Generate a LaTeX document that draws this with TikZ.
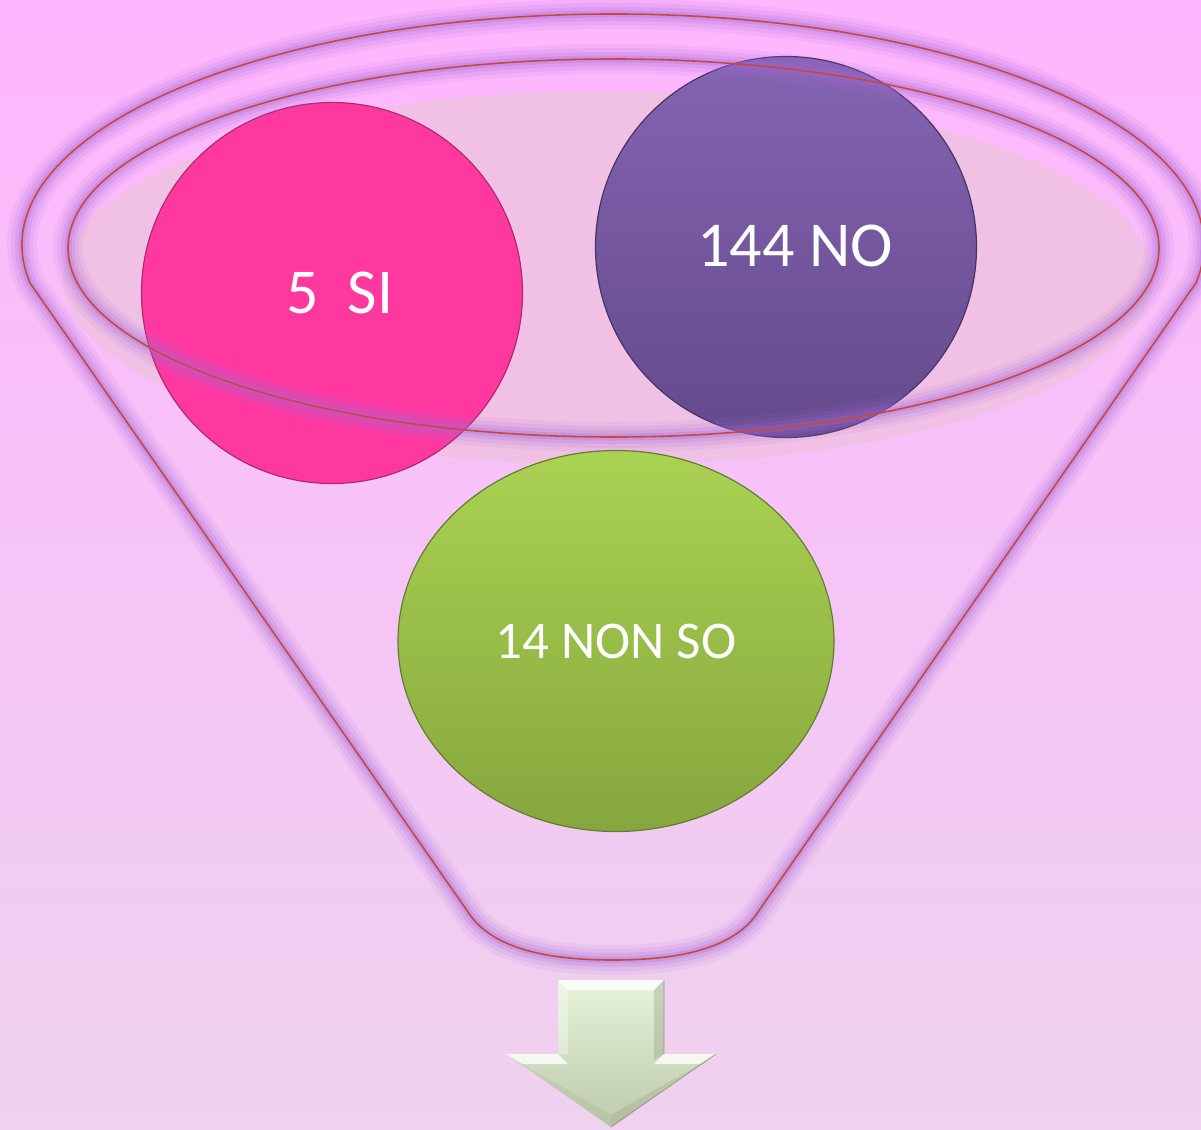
\documentclass[tikz,border=0pt]{standalone}
\usepackage{fontspec}
\setmainfont{Carlito}
\usetikzlibrary{shapes.geometric}
\definecolor{bgtop}{RGB}{254,182,254}
\definecolor{bgbot}{RGB}{238,210,238}
\definecolor{lightell}{RGB}{241,193,229}
\definecolor{halo}{RGB}{165,105,215}
\definecolor{funnelred}{RGB}{200,72,62}
\definecolor{pinkc}{RGB}{255,56,160}
\definecolor{purtop}{RGB}{132,100,178}
\definecolor{purbot}{RGB}{100,74,140}
\definecolor{grtop}{RGB}{170,210,82}
\definecolor{grbot}{RGB}{134,166,62}
\definecolor{arrtop}{RGB}{230,242,218}
\definecolor{arrbot}{RGB}{190,202,170}
\tikzset{
  ball/.style={circle, inner sep=0pt, line width=1.2pt},
  bigtext/.style={font=\fontsize{64}{72}\selectfont, text=white},
  midtext/.style={font=\fontsize{53}{60}\selectfont, text=white},
  redline/.style={draw=funnelred, line width=1.6pt},
}
\begin{document}
\begin{tikzpicture}[x=1pt,y=-1pt]
\useasboundingbox (0,0) rectangle (1201,1129);
\shade[top color=bgtop, bottom color=bgbot] (0,0) rectangle (1201,1129);
% light inner ellipse
\fill[lightell] (608,278) ellipse [x radius=545, y radius=187];
% circles
\node[ball, fill=pinkc, draw=pinkc!70!black, minimum size=381pt,
  label={[name=sitext, bigtext, xshift=8pt]center:5\ \ SI}] (si) at (332,293) {};
\node[ball, top color=purtop, bottom color=purbot, draw=purbot!70!black, minimum size=381pt,
  label={[name=notext, bigtext, xshift=9pt, yshift=1pt]center:144 NO}] (no) at (786,247) {};
\node[ellipse, inner sep=0pt, line width=1.2pt, midtext, top color=grtop, bottom color=grbot, draw=grbot!75!black, minimum width=436pt, minimum height=381pt] (ns) at (616,641) {14 NON SO};
% funnel halo
\foreach \w/\o in {30/0.09,22/0.13,14/0.18,7/0.25}{
  \draw[halo, line width=\w pt, opacity=\o, line join=round]
    (30.1,283.1) arc[start angle=170.5, end angle=369.5, x radius=591, y radius=231]
    -- (758,912) .. controls (736,946) and (686,960) .. (613,960)
    .. controls (540,960) and (490,946) .. (468,912) -- cycle;
  \draw[halo, line width=\w pt, opacity=\o] (613.5,248) ellipse [x radius=545.5, y radius=189];
}
% funnel lines
\draw[redline, line join=round]
    (30.1,283.1) arc[start angle=170.5, end angle=369.5, x radius=591, y radius=231]
    -- (758,912) .. controls (736,946) and (686,960) .. (613,960)
    .. controls (540,960) and (490,946) .. (468,912) -- cycle;
\draw[redline] (613.5,248) ellipse [x radius=545.5, y radius=189];
% arrow
\shade[top color=arrtop, bottom color=arrbot]
  (558,980) -- (664,980) -- (664,1054) -- (716,1054) -- (611,1127) -- (506,1054) -- (558,1054) -- cycle;
\fill[white, opacity=0.85] (558,980) -- (664,980) -- (654,990) -- (568,990) -- cycle;
\fill[white, opacity=0.35] (558,980) -- (568,990) -- (568,1054) -- (558,1054) -- cycle;
\fill[arrbot!70!black, opacity=0.3] (664,980) -- (654,990) -- (654,1060) -- (664,1054) -- cycle;
\fill[white, opacity=0.8] (506,1054) -- (558,1054) -- (568,1064) -- (522,1064) -- cycle;
\fill[white, opacity=0.8] (664,1054) -- (716,1054) -- (700,1064) -- (654,1064) -- cycle;
\fill[arrbot!70!black, opacity=0.22] (716,1054) -- (611,1127) -- (611,1115) -- (700,1064) -- cycle;
\fill[arrbot!70!black, opacity=0.12] (506,1054) -- (611,1127) -- (611,1115) -- (522,1064) -- cycle;
\draw[arrbot!60!black, line width=0.8pt, opacity=0.6] (664,980) -- (664,1054) (716,1054) -- (611,1127);
\end{tikzpicture}
\end{document}
